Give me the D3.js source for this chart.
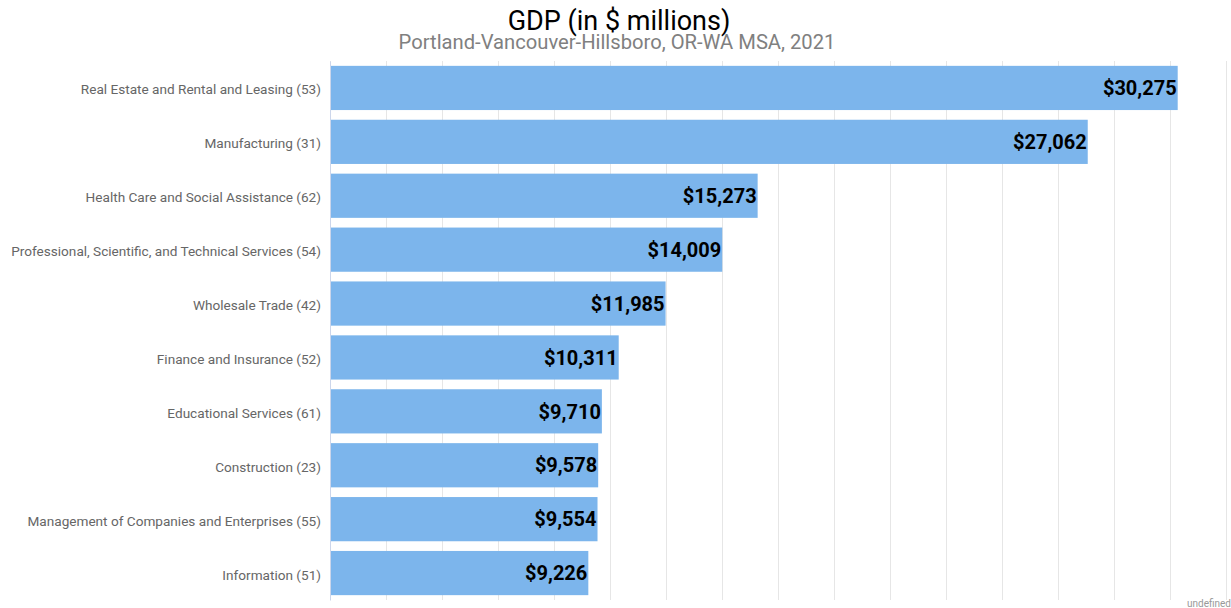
<!DOCTYPE html>
<html>
<head>
<meta charset="utf-8">
<script src="https://cdn.jsdelivr.net/npm/d3@7"></script>
<style>
body{margin:0;background:#fff;}
text{font-family:Roboto,"Noto Sans",sans-serif;}
</style>
</head>
<body>
<div id="chart"></div>
<script>
(function(){
var width = 1231,
	height = 608,
	margin = {top:61,bottom:8,left:330,right:5};

var categories = [
	"Real Estate and Rental and Leasing (53)",
	"Manufacturing (31)",
	"Health Care and Social Assistance (62)",
	"Professional, Scientific, and Technical Services (54)",
	"Wholesale Trade (42)",
	"Finance and Insurance (52)",
	"Educational Services (61)",
	"Construction (23)",
	"Management of Companies and Enterprises (55)",
	"Information (51)"
];
var values = [30275, 27062, 15273, 14009, 11985, 10311, 9710, 9578, 9554, 9226];
var gridTicks = d3.range(0, 32001, 2000);

var title = "GDP (in $ millions)",
	subtitle = "Portland-Vancouver-Hillsboro, OR-WA MSA, 2021";

var X = d3.scaleLinear().domain([0,32000]).range([margin.left, width-margin.right]);
var Y = d3.scaleBand().domain(categories).range([margin.top, height-margin.bottom])
	.paddingInner(0.18).paddingOuter(0.09);
var fmt = d3.format(",");

var svg = d3.select("#chart").append("svg")
	.attr("width",width)
	.attr("height",height);

// vertical grid
svg.append("g").selectAll("line").data(gridTicks).enter().append("line")
	.attr("x1",function(d){return X(d)+0.5}).attr("x2",function(d){return X(d)+0.5})
	.attr("y1",margin.top).attr("y2",height-margin.bottom)
	.attr("stroke","#e6e6e6").attr("stroke-width",1);

// category axis
var yAxis = svg.append("g").attr("transform","translate("+margin.left+",0)")
	.call(d3.axisLeft(Y).tickSize(0).tickPadding(9));
yAxis.select(".domain").attr("stroke","#ccd6eb");
yAxis.selectAll("text").attr("font-size",13.6).attr("fill","#666666")
	.attr("dy","0.48em")
	.style("font-family","Roboto");

var bars = svg.append("g").selectAll("g").data(values).enter().append("g");

bars.append("rect")
	.attr("x",X(0)+1)
	.attr("y",function(d,i){return Y(categories[i])})
	.attr("width",function(d){return X(d)-X(0)-1})
	.attr("height",Y.bandwidth())
	.attr("fill","#7cb5ec");

bars.append("text")
	.attr("x",function(d){return X(d)-1})
	.attr("y",function(d,i){return Y(categories[i])+Y.bandwidth()/2})
	.attr("dy","0.36em")
	.attr("text-anchor","end")
	.attr("font-size",20).attr("font-weight","bold").attr("fill","#000")
	.text(function(d){return "$"+fmt(d)});

svg.append("text").attr("x",619).attr("y",30)
	.attr("text-anchor","middle").attr("font-size",27).attr("fill","#000")
	.text(title);
svg.append("text").attr("x",617).attr("y",49)
	.attr("text-anchor","middle").attr("font-size",20.2).attr("fill","#808080")
	.text(subtitle);

svg.append("text").attr("x",1231).attr("y",607)
	.attr("text-anchor","end").attr("font-size",10).attr("fill","#999999")
	.text("undefined");
})()
</script>
</body>
</html>
